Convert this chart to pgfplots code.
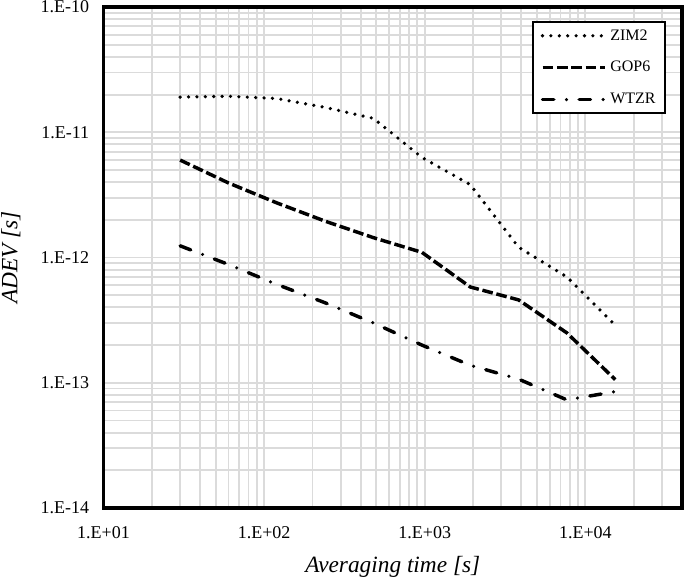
\documentclass[border=0pt]{standalone}
\usepackage{pgfplots}
\pgfplotsset{compat=1.18}
\usepackage{fontspec}
\setmainfont{Liberation Serif}
\begin{document}
\begin{tikzpicture}
\begin{axis}[
  name=ax,
  scale only axis,
  width=433.9pt, height=375.75pt,
  xmode=log, ymode=log,
  xmin=10, xmax=4e4, ymin=1e-14, ymax=1e-10,
  xtick={10,100,1000,10000},
  xticklabels={1.E+01,1.E+02,1.E+03,1.E+04},
  ytick={1e-14,1e-13,1e-12,1e-11,1e-10},
  yticklabels={1.E-14,1.E-13,1.E-12,1.E-11,1.E-10},
  minor xtick={20,30,40,50,60,70,80,90,200,300,400,500,600,700,800,900,2000,3000,4000,5000,6000,7000,8000,9000,20000,30000},
  minor ytick={2e-14,3e-14,4e-14,5e-14,6e-14,7e-14,8e-14,9e-14,2e-13,3e-13,4e-13,5e-13,6e-13,7e-13,8e-13,9e-13,2e-12,3e-12,4e-12,5e-12,6e-12,7e-12,8e-12,9e-12,2e-11,3e-11,4e-11,5e-11,6e-11,7e-11,8e-11,9e-11},
  grid=both,
  major grid style={gray!28, line width=1.4pt},
  minor grid style={gray!28, line width=1.4pt},
  major tick length=0pt, minor tick length=0pt,
  axis line style={line width=2.4pt},
  tick label style={font=\fontsize{13.5}{15}\selectfont},
  xticklabel style={anchor=north, inner sep=0pt, yshift=-13.5pt},
  yticklabel style={anchor=east, inner sep=0pt, xshift=-10.5pt},
  xlabel={\textit{Averaging time [s]}},
  ylabel={\textit{ADEV [s]}},
  label style={font=\fontsize{17.5}{20}\selectfont},
  xlabel style={at={(axis description cs:0.5,-0.1178)}, anchor=center},
  ylabel style={at={(axis description cs:-0.16,0.5)}, anchor=center},
  legend style={at={(axis description cs:0.9723,0.972)}, anchor=north east,
    draw=black, line width=1.6pt, fill=white, inner xsep=6pt, inner ysep=4pt,
    font=\fontsize{12}{12}\selectfont, row sep=11.4pt,
    nodes={text height=8.5pt, text depth=2pt, inner sep=1pt}},
  legend cell align=left,
  legend image code/.code={\draw[#1] (0pt,0pt) -- (47pt,0pt);},
  /tikz/every odd column/.append style={column sep=1.5pt},
]
\addplot[black, line width=2.7pt, line cap=round, dash pattern=on 0pt off 6.3pt] coordinates {
(30,1.91e-11) (60,1.94e-11) (120,1.86e-11) (240,1.58e-11) (480,1.29e-11)
(960,6.3e-12) (1920,3.82e-12) (3840,1.21e-12) (7680,7.0e-13) (15360,2.88e-13)};
\addlegendentry{ZIM2}
\addplot[black, line width=2.6pt, dash pattern=on 8pt off 2.8pt] coordinates {
(30,6.0e-12) (60,3.94e-12) (120,2.73e-12) (240,1.95e-12) (480,1.44e-12)
(960,1.10e-12) (1920,5.82e-13) (3840,4.59e-13) (7680,2.5e-13) (15360,1.06e-13)};
\addlegendentry{GOP6}
\addplot[black, line width=2.6pt, line cap=round, dash pattern=on 8.5pt off 9.5pt on 0pt off 9.5pt] coordinates {
(30,1.24e-12) (60,8.8e-13) (120,6.1e-13) (240,4.35e-13) (480,3.0e-13)
(960,2.0e-13) (1920,1.38e-13) (3840,1.07e-13) (7680,7.3e-14) (15360,8.5e-14)};
\addlegendentry{WTZR}
\end{axis}
\pgfresetboundingbox
\path ([shift={(-77.625pt,-52.5pt)}]ax.south west) rectangle ++(513.75pt,433.5pt);
\end{tikzpicture}
\end{document}
